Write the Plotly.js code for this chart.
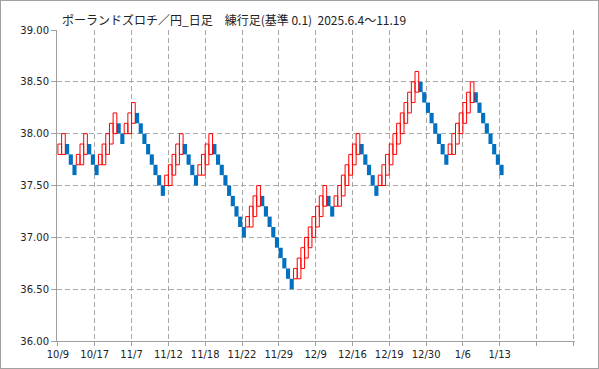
<!DOCTYPE html>
<html><head><meta charset="utf-8">
<script src="https://cdn.plot.ly/plotly-3.0.1.min.js"></script>
<style>
html,body{margin:0;padding:0;background:#fff}
#wrap{position:relative;width:599px;height:369px}
#chart{position:absolute;left:0;top:0;width:599px;height:369px}
#frame{position:absolute;left:0;top:0;width:599px;height:369px;box-sizing:border-box;border:1px solid #a0a0a0;pointer-events:none}
</style>
</head><body>
<div id="wrap"><div id="chart"></div><div id="frame"></div></div>
<script>
// Brick lows (練行足, 基準 0.1), one brick per column
const brickLow = [
 37.8,37.9,37.8,37.7,37.6,37.7,37.8,37.9,37.8,37.7,
 37.6,37.7,37.8,37.9,38.0,38.1,38.0,37.9,38.0,38.1,
 38.2,38.1,38.0,37.9,37.8,37.7,37.6,37.5,37.4,37.5,
 37.6,37.7,37.8,37.9,37.8,37.7,37.6,37.5,37.6,37.7,
 37.8,37.9,37.8,37.7,37.6,37.5,37.4,37.3,37.2,37.1,
 37.0,37.1,37.2,37.3,37.4,37.3,37.2,37.1,37.0,36.9,
 36.8,36.7,36.6,36.5,36.6,36.7,36.8,36.9,37.0,37.1,
 37.2,37.3,37.4,37.3,37.2,37.3,37.4,37.5,37.6,37.7,
 37.8,37.9,37.8,37.7,37.6,37.5,37.4,37.5,37.6,37.7,
 37.8,37.9,38.0,38.1,38.2,38.3,38.4,38.5,38.4,38.3,
 38.2,38.1,38.0,37.9,37.8,37.7,37.8,37.9,38.0,38.1,
 38.2,38.3,38.4,38.3,38.2,38.1,38.0,37.9,37.8,37.7,
 37.6
];
// Direction of each brick: U = up (red outline), D = down (blue)
const brickDir = [
 'U','U','D','D','D','U','U','U','D','D',
 'D','U','U','U','U','U','D','D','U','U',
 'U','D','D','D','D','D','D','D','D','U',
 'U','U','U','U','D','D','D','D','U','U',
 'U','U','D','D','D','D','D','D','D','D',
 'D','U','U','U','U','D','D','D','D','D',
 'D','D','D','D','U','U','U','U','U','U',
 'U','U','U','D','D','U','U','U','U','U',
 'U','U','D','D','D','D','D','U','U','U',
 'U','U','U','U','U','U','U','U','D','D',
 'D','D','D','D','D','D','U','U','U','U',
 'U','U','U','D','D','D','D','D','D','D',
 'D'
];
const brickSize = 0.1;
// X-axis date labels (every 10 bricks)
const dateLabels = ['10/9','10/17','11/7','11/12','11/18','11/22','11/29','12/9','12/16','12/19','12/30','1/6','1/13','',''];
const yTicks = [36.0,36.5,37.0,37.5,38.0,38.5,39.0];

const upX=[],upBase=[],upH=[],dnX=[],dnBase=[],dnH=[];
brickLow.forEach((v,i)=>{
  if(brickDir[i]==='U'){
    const prevUp = i>0 && brickDir[i-1]==='U';
    const b = prevUp ? v-brickSize : v;
    upX.push(i); upBase.push(+b.toFixed(2)); upH.push(+((v+brickSize)-b).toFixed(2));
  } else {
    dnX.push(i); dnBase.push(v); dnH.push(brickSize);
  }
});

const traces = [
 {type:'bar', x:dnX, y:dnH, base:dnBase, width:1.12,
  marker:{color:'#0070c0', line:{width:0}}, hoverinfo:'skip'},
 {type:'bar', x:upX, y:upH, base:upBase, width:1.0,
  marker:{color:'rgba(0,0,0,0)', line:{color:'#ff0000', width:1}}, hoverinfo:'skip'}
];

const tickPos = dateLabels.map((_,k)=>k*10-0.5);

const layout = {
  width:599, height:369,
  margin:{l:57, r:24, t:30, b:28, pad:0},
  paper_bgcolor:'rgba(0,0,0,0)', plot_bgcolor:'#ffffff',
  barmode:'overlay', showlegend:false,
  title:{text:'ポーランドズロチ／円_日足　練行足(基準 0.1)\u00a0\u00a02025.6.4～11.19',
         x:62/599, xref:'container', xanchor:'left',
         y:1-20.5/369, yref:'container', yanchor:'middle',
         font:{family:'Noto Sans CJK JP', size:12, color:'#222'}},
  xaxis:{range:[-0.75,139.95], tickmode:'array', tickvals:tickPos, ticktext:dateLabels,
         showgrid:true, gridcolor:'#a8a8a8', griddash:'5px,3px', gridwidth:1,
         showline:true, linecolor:'#a0a0a0', linewidth:1,
         ticks:'outside', ticklen:4, tickcolor:'#a0a0a0',
         tickfont:{family:'DejaVu Sans', size:10, color:'#222'}, zeroline:false, fixedrange:true},
  yaxis:{range:[36,39], tickmode:'array', tickvals:yTicks, ticktext:yTicks.map(v=>v.toFixed(2)),
         showgrid:true, gridcolor:'#a8a8a8', griddash:'5px,3px', gridwidth:1,
         showline:true, linecolor:'#a0a0a0', linewidth:1,
         ticks:'outside', ticklen:5, tickcolor:'#a0a0a0',
         tickfont:{family:'DejaVu Sans', size:10, color:'#222'}, zeroline:false, fixedrange:true}
};

Plotly.newPlot('chart', traces, layout, {staticPlot:true, displayModeBar:false});
</script>
</body></html>
